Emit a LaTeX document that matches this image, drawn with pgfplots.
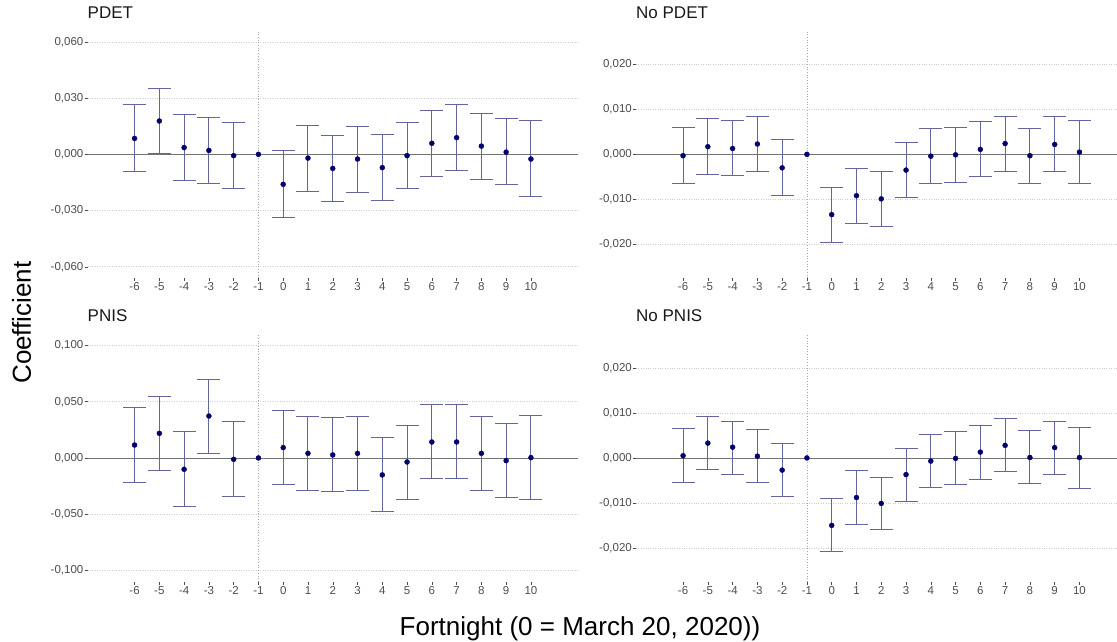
\documentclass[border=0pt]{standalone}
\usepackage{pgfplots}
\pgfplotsset{compat=1.18}
\usepackage{pgfplotstable}
\usepackage{fontspec}
\setmainfont{Liberation Sans}
\definecolor{pt}{RGB}{0,0,110}
\definecolor{eb}{RGB}{100,100,158}
\definecolor{tk}{RGB}{77,77,77}
\definecolor{gr}{RGB}{205,205,205}

\pgfplotstableread{
x y lo hi
-6 0.0085 -0.0094 0.0265
-5 0.0178 0.0002 0.0354
-4 0.0036 -0.0142 0.0212
-3 0.0021 -0.0153 0.0199
-2 -0.0007 -0.0183 0.0169
-1 0 0 0
0 -0.0160 -0.0336 0.0018
1 -0.0020 -0.0196 0.0155
2 -0.0075 -0.0251 0.0101
3 -0.0025 -0.0201 0.0151
4 -0.0071 -0.0247 0.0105
5 -0.0007 -0.0183 0.0169
6 0.0059 -0.0116 0.0236
7 0.0089 -0.0085 0.0265
8 0.0044 -0.0132 0.0219
9 0.0012 -0.0160 0.0190
10 -0.0025 -0.0224 0.0178
}\pdet

\pgfplotstableread{
x y lo hi
-6 -0.0003 -0.0065 0.0059
-5 0.0017 -0.0044 0.0079
-4 0.0013 -0.0047 0.0075
-3 0.0023 -0.0038 0.0084
-2 -0.0030 -0.0092 0.0032
-1 0 0 0
0 -0.0134 -0.0195 -0.0073
1 -0.0092 -0.0154 -0.0031
2 -0.0099 -0.0160 -0.0038
3 -0.0035 -0.0096 0.0027
4 -0.0004 -0.0065 0.0058
5 -0.0001 -0.0063 0.0060
6 0.0011 -0.0050 0.0073
7 0.0024 -0.0038 0.0085
8 -0.0003 -0.0064 0.0058
9 0.0022 -0.0039 0.0084
10 0.0005 -0.0064 0.0075
}\nopdet

\pgfplotstableread{
x y lo hi
-6 0.0115 -0.0216 0.0453
-5 0.0219 -0.0112 0.0550
-4 -0.0101 -0.0429 0.0231
-3 0.0373 0.0041 0.0701
-2 -0.0012 -0.0340 0.0320
-1 0 0 0
0 0.0092 -0.0240 0.0423
1 0.0041 -0.0290 0.0370
2 0.0027 -0.0302 0.0358
3 0.0041 -0.0290 0.0370
4 -0.0151 -0.0479 0.0180
5 -0.0036 -0.0367 0.0293
6 0.0142 -0.0186 0.0473
7 0.0142 -0.0186 0.0473
8 0.0041 -0.0290 0.0370
9 -0.0024 -0.0352 0.0308
10 0.0003 -0.0373 0.0382
}\pnis

\pgfplotstableread{
x y lo hi
-6 0.0005 -0.0054 0.0066
-5 0.0033 -0.0026 0.0092
-4 0.0024 -0.0036 0.0082
-3 0.0004 -0.0054 0.0064
-2 -0.0027 -0.0085 0.0032
-1 0 0 0
0 -0.0150 -0.0209 -0.0091
1 -0.0088 -0.0147 -0.0029
2 -0.0101 -0.0160 -0.0043
3 -0.0037 -0.0096 0.0022
4 -0.0007 -0.0066 0.0052
5 -0.0001 -0.0060 0.0059
6 0.0013 -0.0047 0.0072
7 0.0028 -0.0031 0.0087
8 0.0001 -0.0056 0.0061
9 0.0023 -0.0036 0.0082
10 0.0001 -0.0067 0.0068
}\nopnis

\pgfplotsset{
 panel/.style={
  scale only axis, height=247.3pt,
  xmin=-7.9,
  scaled y ticks=false,
  axis line style={draw=none},
  xtick={-6,...,10},
  xticklabels={-6,-5,-4,-3,-2,-1,0,1,2,3,4,5,6,7,8,9,10},
  tick align=outside, major tick length=3pt, tick pos=left,
  tick style={tk, line width=0.5pt},
  ticklabel style={font=\fontsize{11.5}{12}\selectfont, text=tk},
  xticklabel style={inner sep=1.5pt},
  yticklabel style={inner sep=1pt},
  ymajorgrids, grid style={gr, dotted, line width=0.7pt},
  title style={at={(0,1)}, anchor=base west, inner sep=0pt, yshift=6.5pt,
     font=\fontsize{17}{17}\selectfont, text=black!90},
 },
 leftp/.style={panel, width=490.5pt, xmax=11.9},
 rightp/.style={panel, width=481pt, xmax=11.516},
 ebars/.style={only marks, mark=*, mark size=2.5pt, color=pt, mark options={draw=pt, fill=pt},
  skip coords between index={5}{6},
  error bars/.cd, y dir=both, y explicit,
  error bar style={draw=eb, line width=1pt, solid},
  error mark options={rotate=90, mark size=11.5pt, draw=eb, line width=1pt}},
}

\begin{document}
\begin{tikzpicture}
\path[use as bounding box] (0pt,0pt) rectangle (1117pt,641pt);

% PDET
\begin{axis}[leftp, at={(87.5pt,610.3pt)}, anchor=north west, title={PDET},
  ymin=-0.066, ymax=0.066, ytick={-0.06,-0.03,0,0.03,0.06},
  yticklabels={{-0,060},{-0,030},{0,000},{0,030},{0,060}}]
\addplot[gray!70, dotted, line width=0.7pt] coordinates {(-1,-0.066) (-1,0.066)};
\addplot[black!55, line width=0.8pt] coordinates {(-7.9,0) (11.9,0)};
\addplot[ebars] table[x=x, y=y, y error plus expr=\thisrow{hi}-\thisrow{y}, y error minus expr=\thisrow{y}-\thisrow{lo}] {\pdet};
\addplot[only marks, mark=*, mark size=2.5pt, color=pt] coordinates {(-1,0)};
\end{axis}

% No PDET
\begin{axis}[rightp, at={(636pt,610.3pt)}, anchor=north west, title={No PDET},
  ymin=-0.0275, ymax=0.0275, ytick={-0.02,-0.01,0,0.01,0.02},
  yticklabels={{-0,020},{-0,010},{0,000},{0,010},{0,020}}]
\addplot[gray!70, dotted, line width=0.7pt] coordinates {(-1,-0.0275) (-1,0.0275)};
\addplot[black!55, line width=0.8pt] coordinates {(-7.9,0) (11.9,0)};
\addplot[ebars] table[x=x, y=y, y error plus expr=\thisrow{hi}-\thisrow{y}, y error minus expr=\thisrow{y}-\thisrow{lo}] {\nopdet};
\addplot[only marks, mark=*, mark size=2.5pt, color=pt] coordinates {(-1,0)};
\end{axis}

% PNIS
\begin{axis}[leftp, at={(87.5pt,306.7pt)}, anchor=north west, title={PNIS},
  ymin=-0.11, ymax=0.11, ytick={-0.1,-0.05,0,0.05,0.1},
  yticklabels={{-0,100},{-0,050},{0,000},{0,050},{0,100}}]
\addplot[gray!70, dotted, line width=0.7pt] coordinates {(-1,-0.11) (-1,0.11)};
\addplot[black!55, line width=0.8pt] coordinates {(-7.9,0) (11.9,0)};
\addplot[ebars] table[x=x, y=y, y error plus expr=\thisrow{hi}-\thisrow{y}, y error minus expr=\thisrow{y}-\thisrow{lo}] {\pnis};
\addplot[only marks, mark=*, mark size=2.5pt, color=pt] coordinates {(-1,0)};
\end{axis}

% No PNIS
\begin{axis}[rightp, at={(636pt,306.7pt)}, anchor=north west, title={No PNIS},
  ymin=-0.0275, ymax=0.0275, ytick={-0.02,-0.01,0,0.01,0.02},
  yticklabels={{-0,020},{-0,010},{0,000},{0,010},{0,020}}]
\addplot[gray!70, dotted, line width=0.7pt] coordinates {(-1,-0.0275) (-1,0.0275)};
\addplot[black!55, line width=0.8pt] coordinates {(-7.9,0) (11.9,0)};
\addplot[ebars] table[x=x, y=y, y error plus expr=\thisrow{hi}-\thisrow{y}, y error minus expr=\thisrow{y}-\thisrow{lo}] {\nopnis};
\addplot[only marks, mark=*, mark size=2.5pt, color=pt] coordinates {(-1,0)};
\end{axis}

\node[rotate=90, anchor=base, font=\fontsize{26}{26}\selectfont, inner sep=0pt] at (31pt,318.5pt) {Coefficient};
\node[anchor=base, font=\fontsize{26}{26}\selectfont, inner sep=0pt] at (580pt,6pt) {Fortnight (0 = March 20, 2020))};
\end{tikzpicture}
\end{document}
